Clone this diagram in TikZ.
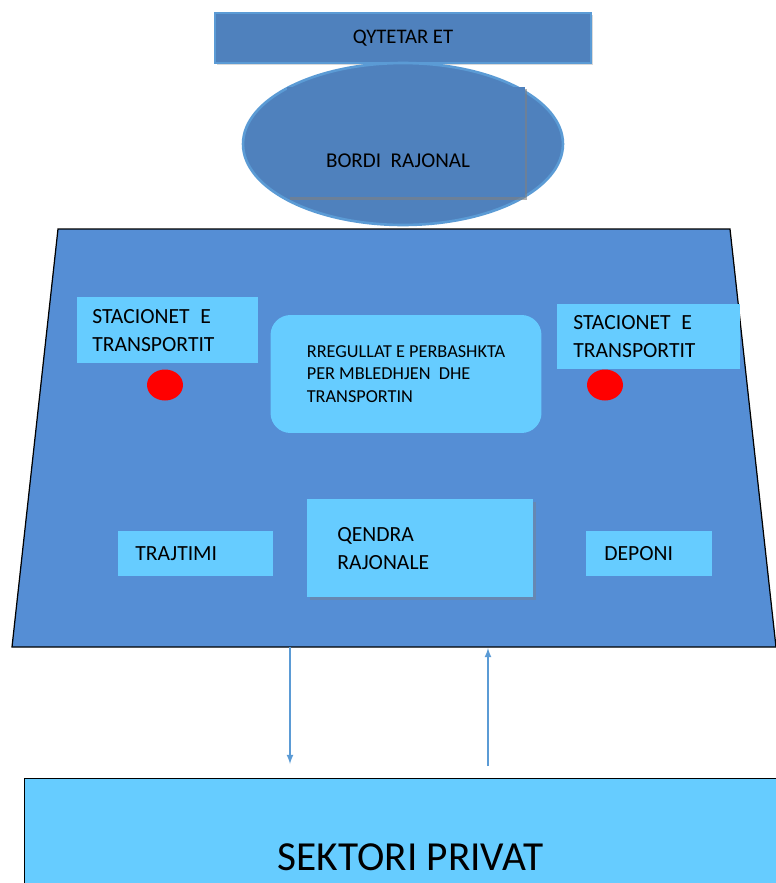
\documentclass[tikz,border=0pt]{standalone}
\usepackage{fontspec}
\setmainfont{Carlito}
\usetikzlibrary{shapes.geometric,shadows,positioning}
\definecolor{darkblue}{HTML}{4F81BD}
\definecolor{midblue}{HTML}{558ED5}
\definecolor{skyblue}{HTML}{66CCFF}
\definecolor{edgeblue}{HTML}{5B9BD5}
\tikzset{panel/.style={draw=edgeblue,line width=1.5pt,fill=darkblue},
box/.style={fill=skyblue,inner ysep=0pt,align=left,anchor=north west,font=\fontsize{12.3}{15.9}\selectfont},
flow/.style={->,color=edgeblue,line width=0.8pt},
bin/.style={ellipse,fill=red,minimum width=0.72cm,minimum height=0.62cm,inner sep=0pt}}

\begin{document}
\begin{tikzpicture}[x=0.02cm,y=-0.02cm,>=latex]
\useasboundingbox (0,0) rectangle (776,883);
% top: citizens and board
\node[panel,minimum width=7.52cm,minimum height=1cm,drop shadow={opacity=0.3,shadow xshift=0.04cm,shadow yshift=-0.04cm},font=\fontsize{11.8}{13}\selectfont] (citizens) at (403,38) {QYTETAR ET};
\node[panel,ellipse,minimum width=6.4cm,minimum height=3.24cm] (board) at (403,144) {};
\node[fill=darkblue,minimum width=4.76cm,minimum height=2.22cm,drop shadow={opacity=0.6,shadow xshift=0.05cm,shadow yshift=-0.05cm}] (boardbox) at (406,142) {};
\node[font=\fontsize{12}{14}\selectfont] (bordi) at (398,161) {BORDI\ \ RAJONAL};
% region
\draw[fill=midblue,line width=0.7pt] (58,229) coordinate (tl)--(730,229) coordinate (tr)--(776,647) coordinate (br)--(12,647) coordinate (bl)--cycle;
\node[box,text width=3.02cm,inner xsep=0.3cm,minimum height=1.32cm] (stL) at (77,297) {STACIONET\enspace E\\TRANSPORTIT};
\node[box,text width=3.02cm,inner xsep=0.32cm,minimum height=1.3cm] (stR) at (557,304) {STACIONET\enspace E\\TRANSPORTIT};
\node[bin] (dotL) at (165,385) {};
\node[bin] (dotR) at (605,385) {};
\node[box,anchor=center,rounded corners=0.4cm,minimum width=5.42cm,minimum height=2.36cm,font=\fontsize{10.4}{13}\selectfont] (rules) at (406,374) {RREGULLAT E PERBASHKTA\\PER MBLEDHJEN\ \ DHE\\TRANSPORTIN};
\node[box,text width=2.42cm,inner xsep=0.34cm,minimum height=0.9cm] (treat) at (118,531) {TRAJTIMI};
\node[box,text width=3.32cm,inner xsep=0.6cm,minimum height=1.96cm,drop shadow={opacity=0.4,shadow xshift=0.05cm,shadow yshift=-0.05cm}] (centre) at (307,499) {QENDRA\\RAJONALE};
\node[box,text width=1.8cm,inner xsep=0.36cm,minimum height=0.9cm] (landfill) at (586,531) {DEPONI};
% private sector
\node[fill=skyblue,draw=black,line width=0.6pt,minimum width=15.44cm,minimum height=3.16cm,anchor=north west,font=\fontsize{23.5}{26}\selectfont] (private) at (24,778) {SEKTORI PRIVAT};
\coordinate (outTop) at (290,647);
\coordinate (outEnd) at (290,764);
\coordinate (inStart) at (488,766);
\coordinate (inTop) at (488,648);
\draw[flow](outTop)--(outEnd);
\draw[flow](inStart)--(inTop);
\end{tikzpicture}
\end{document}
